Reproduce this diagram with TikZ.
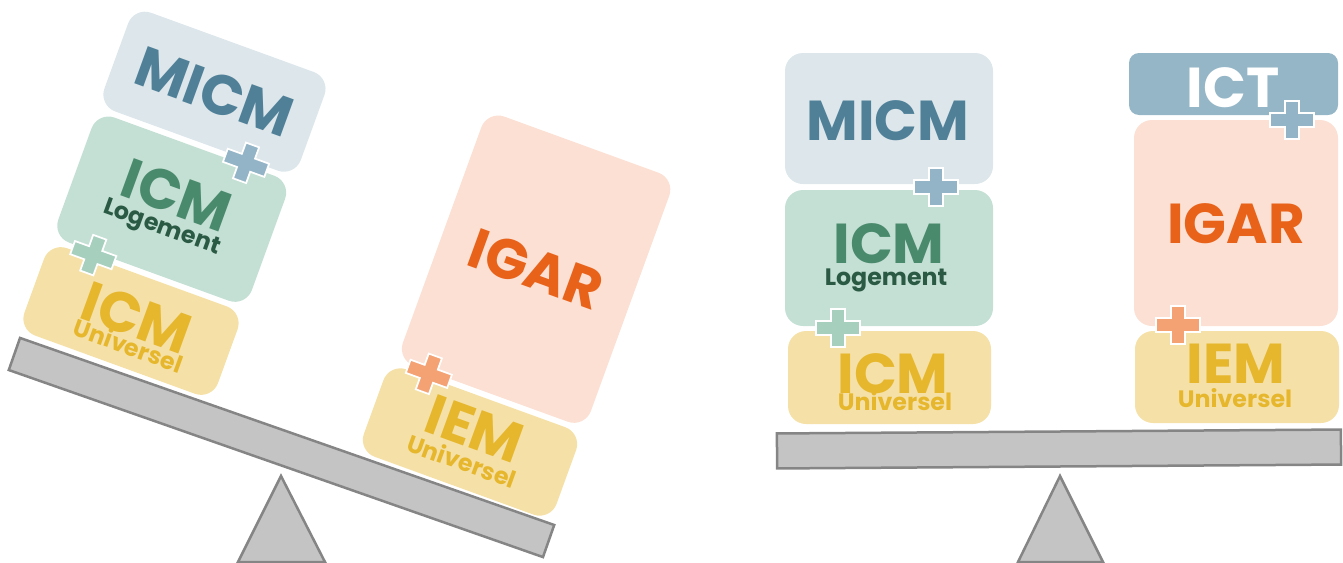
\documentclass[tikz,border=0pt]{standalone}
\usepackage{fontspec}
\newfontfamily\blockfont{Poppins}
\usetikzlibrary{positioning}
\definecolor{micmfill}{HTML}{DCE6EB}
\definecolor{micmtext}{HTML}{4F8098}
\definecolor{logfill}{HTML}{C4E0D5}
\definecolor{logtext}{HTML}{4A8A6C}
\definecolor{logsub}{HTML}{2B5A44}
\definecolor{univfill}{HTML}{F5E1A8}
\definecolor{univtext}{HTML}{E6B72D}
\definecolor{igarfill}{HTML}{FBE0D3}
\definecolor{igartext}{HTML}{E8621A}
\definecolor{ictfill}{HTML}{94B6C6}
\definecolor{plusblue}{HTML}{92B4C6}
\definecolor{plusgreen}{HTML}{A6CFBE}
\definecolor{plusorange}{HTML}{F4A173}
\definecolor{beamgray}{HTML}{C4C4C4}
\definecolor{beamedge}{HTML}{858585}

\begin{document}
\begin{tikzpicture}[x=0.2mm, y=-0.2mm,
  block/.style={rounded corners=3.6mm, inner sep=0pt},
  big/.style={anchor=base, inner sep=0pt, text height=7.6mm, text depth=0pt,
    font=\blockfont\bfseries\fontsize{32}{32}\selectfont},
  small/.style={anchor=base, inner sep=0pt, text height=3.2mm, text depth=0pt,
    font=\blockfont\bfseries\fontsize{13.5}{13.5}\selectfont},
  beam/.style={fill=beamgray, draw=beamedge, line width=0.5mm},
  pics/plus/.style={code={
    \draw[white, line width=0.35mm, fill=#1] (-22,-7) -- (-7,-7) -- (-7,-19) -- (7,-19)
      -- (7,-7) -- (22,-7) -- (22,7) -- (7,7) -- (7,19) -- (-7,19) -- (-7,7) -- (-22,7) -- cycle;}},
]
\useasboundingbox (0,0) rectangle (1343,562);

%left balance
\node[beam, minimum width=113.2mm, minimum height=6.8mm, rotate=-19.3] (l-beam) at (281.5,447.5) {};
\fill[beam] (281,476) -- (325,562) -- (238,562) -- cycle;
% left column
\begin{scope}[shift={(131,321)}, rotate=-20, transform shape]
\node[block, fill=univfill, minimum width=41.2mm, minimum height=18.6mm] (l-univ) at (0,0) {};
\node[big, text=univtext] (l-univ-t) at (4,15) {ICM};
\node[small, text=univtext] (l-univ-s) at (6,33) {Universel};
\node[block, fill=logfill, minimum width=41.2mm, minimum height=26.6mm] (l-log) at (0,-119) {};
\node[big, text=logtext] (l-log-t) at (0,-114) {ICM};
\node[small, text=logsub] (l-log-s) at (-3,-92) {Logement};
\node[block, fill=micmfill, minimum width=41.8mm, minimum height=21mm] (l-micm) at (0,-244) {};
\node[big, text=micmtext] (l-micm-t) at (0,-224) {MICM};
\pic (l-plus1) at (54,-188) {plus=plusblue};
\pic (l-plus2) at (-58,-49) {plus=plusgreen};
\end{scope}
% right column
\begin{scope}[shift={(470,442)}, rotate=-20, transform shape]
\node[block, fill=univfill, minimum width=41mm, minimum height=18.6mm] (l-iem) at (0,0) {};
\node[big, text=univtext] (l-iem-t) at (0,6) {IEM};
\node[small, text=univtext] (l-iem-s) at (-1,30) {Universel};
\node[block, fill=igarfill, minimum width=40mm, minimum height=53mm] (l-igar) at (3,-185) {};
\node[big, text=igartext] (l-igar-t) at (3,-165) {IGAR};
\pic (l-plus3) at (-62,-50) {plus=plusorange};
\end{scope}

%right balance
\node[beam, minimum width=112.8mm, minimum height=7mm, rotate=0.4] (r-beam) at (1059,449) {};
\fill[beam] (1060,476) -- (1103,562) -- (1018,562) -- cycle;
% left column
\node[block, fill=univfill, minimum width=40.6mm, minimum height=18.6mm] (r-univ) at (889.5,377.5) {};
\node[big, text=univtext] (r-univ-t) at (893,393) {ICM};
\node[small, text=univtext] (r-univ-s) at (895,410) {Universel};
\node[block, fill=logfill, minimum width=41.6mm, minimum height=27.2mm] (r-log) at (889,258) {};
\node[big, text=logtext] (r-log-t) at (889,263) {ICM};
\node[small, text=logsub] (r-log-s) at (886,285) {Logement};
\node[block, fill=micmfill, minimum width=41.6mm, minimum height=26.2mm] (r-micm) at (889,118.5) {};
\node[big, text=micmtext] (r-micm-t) at (888,140) {MICM};
\pic (r-plus1) at (936,187) {plus=plusblue};
\pic (r-plus2) at (838,328) {plus=plusgreen};
% right column
\node[block, fill=univfill, minimum width=40.8mm, minimum height=18.4mm] (r-iem) at (1237,377) {};
\node[big, text=univtext] (r-iem-t) at (1236,383) {IEM};
\node[small, text=univtext] (r-iem-s) at (1235,407) {Universel};
\node[block, fill=igarfill, minimum width=40.8mm, minimum height=41.2mm] (r-igar) at (1236,223) {};
\node[big, text=igartext] (r-igar-t) at (1236,243) {IGAR};
\node[block, fill=ictfill, rounded corners=2mm, minimum width=41.8mm, minimum height=12.4mm] (r-ict) at (1233.5,84) {};
\node[big, text=white] (r-ict-t) at (1233,107) {ICT};
\pic (r-plus3) at (1292,120) {plus=plusblue};
\pic (r-plus4) at (1178,325) {plus=plusorange};
\end{tikzpicture}
\end{document}
